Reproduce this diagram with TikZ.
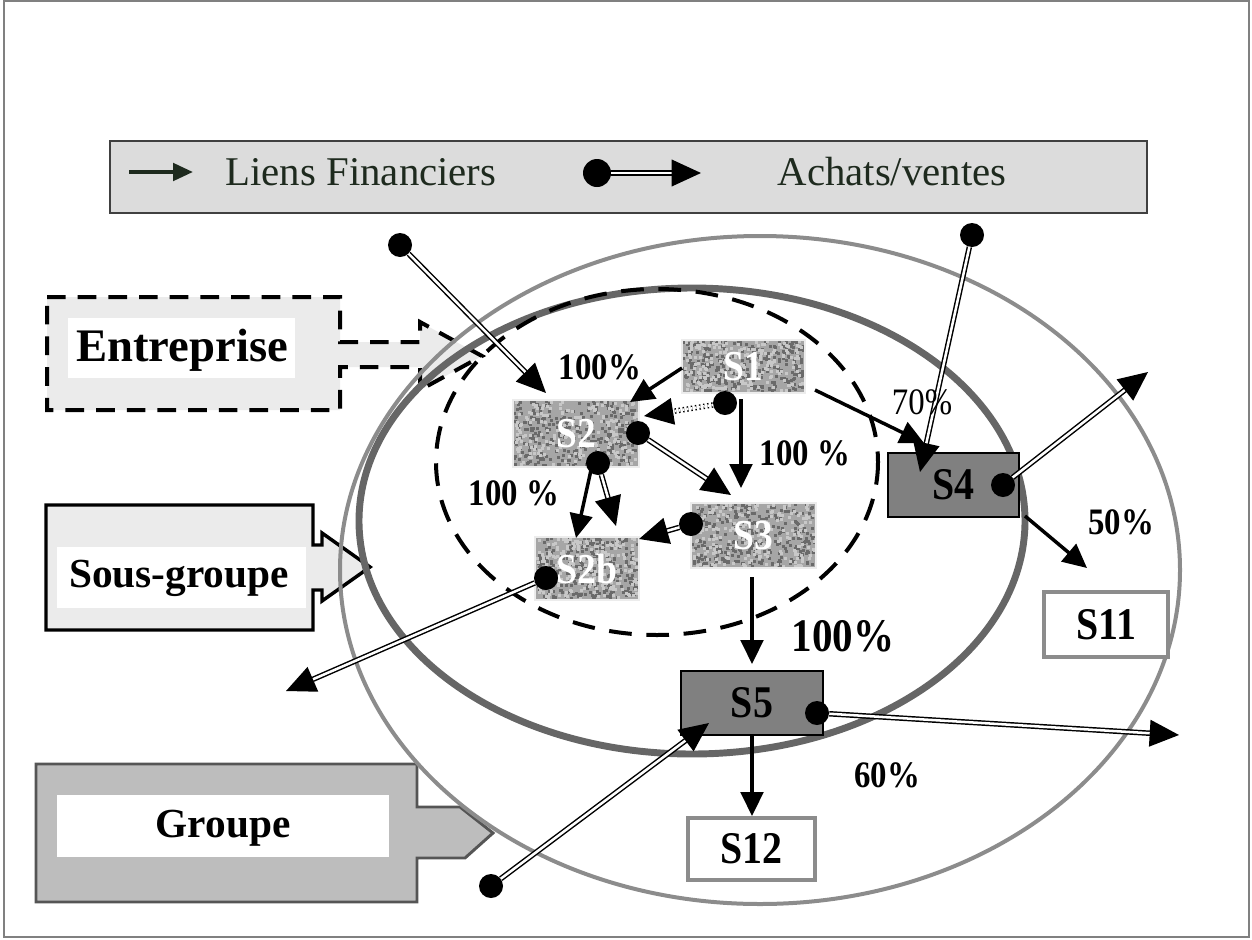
\documentclass[tikz,border=0pt]{standalone}
\usepackage{fontspec}
\setmainfont{Liberation Serif}
\newfontfamily\narrowfont[FakeStretch=0.88]{Liberation Serif}
\usetikzlibrary{arrows.meta}
\definecolor{outerc}{HTML}{8C8C8C}
\definecolor{midc}{HTML}{666666}
\definecolor{legfill}{HTML}{DCDCDC}
\definecolor{legtext}{HTML}{1E2A1E}
\definecolor{noisebase}{HTML}{A6A6A6}
\definecolor{noisedark}{HTML}{6A6A6A}
\definecolor{noiselight}{HTML}{C8C8C8}
\definecolor{darkbox}{HTML}{808080}
\definecolor{calloutlight}{HTML}{EBEBEB}
\definecolor{calloutdark}{HTML}{BDBDBD}
\definecolor{calloutborder}{HTML}{555555}
\newcommand\noisepatch[4]{%
  \fill[noisebase] (#1,#2) rectangle ++(#3,#4);
  \foreach \k in {1,...,300}{%
    \pgfmathsetmacro\nx{#1+rnd*(#3-3)}%
    \pgfmathsetmacro\ny{#2+rnd*(#4-3)}%
    \fill[noisedark] (\nx,\ny) rectangle ++(3,3);
  }%
  \foreach \k in {1,...,220}{%
    \pgfmathsetmacro\nx{#1+rnd*(#3-3)}%
    \pgfmathsetmacro\ny{#2+rnd*(#4-3)}%
    \fill[noiselight] (\nx,\ny) rectangle ++(3,3);
  }%
}
\tikzset{
  noisebox/.style={draw=white!85!gray, line width=1pt,
    text=white, font=\narrowfont\bfseries\fontsize{32}{34}\selectfont, inner sep=0pt},
  darkboxst/.style={draw=black, line width=0.8pt, fill=darkbox,
    font=\narrowfont\bfseries\fontsize{34}{36}\selectfont, inner sep=0pt},
  whitebox/.style={draw=outerc, line width=2.4pt, fill=white,
    font=\narrowfont\bfseries\fontsize{34}{36}\selectfont, inner sep=0pt},
  fin/.style={line width=2.6pt, -{Triangle[length=18pt,width=17pt]}},
  ach/.style={line width=1.1pt, double=white, double distance=1.9pt,
    -{Triangle[length=22pt,width=20pt]}},
  dotnode/.style={circle, fill=black, inner sep=0pt, minimum size=18pt},
  pct/.style={font=\narrowfont\bfseries\fontsize{28}{30}\selectfont, inner sep=0pt},
  calltext/.style={font=\bfseries\fontsize{31}{33}\selectfont, inner sep=0pt},
  legtextst/.style={text=legtext, font=\fontsize{30.6}{33}\selectfont, inner sep=0pt, anchor=base},
}
\begin{document}
\begin{tikzpicture}[x=0.75pt,y=-0.75pt]
\pgfmathsetseed{4242}
\useasboundingbox (0,0) rectangle (1252,939);
% frame
\draw[gray, line width=1.2pt] (4,1) rectangle (1249,937);

% legend
\node[draw=black!75, line width=1.5pt, fill=legfill, minimum width=777.75pt, minimum height=54pt, inner sep=0pt] (legend) at (628.5,177) {};
\coordinate (lfa) at (129,172);
\coordinate (lfb) at (193,172);
\draw[legtext, line width=3pt, -{Triangle[length=15pt,width=13pt]}] (lfa) -- (lfb);
\node[legtextst] (lliens) at (361,185) {Liens Financiers};
\node[circle, fill=black, inner sep=0pt, minimum width=19pt, minimum height=21pt] (ldot) at (597,173) {};
\coordinate (lab) at (701,173);
\draw[ach] (ldot) -- (lab);
\node[legtextst] (lachats) at (892,185) {Achats/ventes};

% callout Entreprise
\path[fill=calloutlight, draw=black, line width=3pt, dash pattern=on 14pt off 9pt]
  (47,297) -- (340,297) -- (340,342) -- (420,342) -- (420,322) -- (482,356) -- (420,390) -- (420,367) -- (340,367) -- (340,410) -- (47,410) -- cycle;
\fill[white] (68,318) rectangle (295,378);
\node[calltext, font=\bfseries\fontsize{35}{37}\selectfont] (entreprise) at (182,350) {Entreprise};

% callout Sous-groupe
\path[fill=calloutlight, draw=black, line width=2.6pt]
  (46,505) -- (313,505) -- (313,545) -- (322,545) -- (322,533) -- (370,567) -- (322,601) -- (322,590) -- (313,590) -- (313,630) -- (46,630) -- cycle;
\fill[white] (57,547) rectangle (306,608);
\node[calltext] (sousgroupe) at (179,578) {Sous-groupe};

% callout Groupe
\path[fill=calloutdark, draw=calloutborder, line width=2.2pt]
  (36,764) -- (417,764) -- (417,807) -- (460,807) -- (493,833) -- (465,858) -- (417,858) -- (417,902) -- (36,902) -- cycle;
\fill[white] (57,795) rectangle (389,857);
\node[calltext] (groupe) at (223,828) {Groupe};

% ellipses
\draw[outerc, line width=3pt] (760,570) ellipse [x radius=420, y radius=334];
\draw[midc, line width=5.2pt] (692,521) ellipse [x radius=333, y radius=233];
\draw[black, line width=3pt, dash pattern=on 17pt off 11pt] (657,462) ellipse [x radius=221, y radius=173];

% textured boxes
\noisepatch{682}{340}{123}{53}
\noisepatch{513}{400}{126}{67}
\noisepatch{535}{537}{104}{63}
\noisepatch{691}{503}{125}{65}
\node[noisebox, minimum width=92.25pt, minimum height=39.75pt] (S1) at (743.5,366.5) {S1};
\node[noisebox, minimum width=94.5pt, minimum height=50.25pt] (S2) at (576,433.5) {S2};
\node[noisebox, minimum width=78pt, minimum height=47.25pt] (S2b) at (587,568.5) {S2b};
\node[noisebox, minimum width=93.75pt, minimum height=48.75pt] (S3) at (753.5,535.5) {S3};
\node[darkboxst, minimum width=98.25pt, minimum height=48pt] (S4) at (953.5,485) {S4};
\node[darkboxst, minimum width=106.5pt, minimum height=48pt] (S5) at (752,703) {S5};
\node[whitebox, minimum width=93pt, minimum height=48.75pt] (S11) at (1106,624.5) {S11};
\node[whitebox, minimum width=95.25pt, minimum height=46.5pt] (S12) at (751.5,849) {S12};

% financial links
\coordinate (f1a) at (682,368);  \coordinate (f1b) at (630,402);
\coordinate (f2a) at (741,399);  \coordinate (f2b) at (741,488);
\coordinate (f3a) at (815,390);  \coordinate (f3b) at (924,443);
\coordinate (f4a) at (591,470);  \coordinate (f4b) at (576,538);
\coordinate (f5a) at (752,577);  \coordinate (f5b) at (752,664);
\coordinate (f6a) at (1025,516); \coordinate (f6b) at (1087,568);
\coordinate (f7a) at (752,735);  \coordinate (f7b) at (752,816);
\draw[fin] (f1a) -- (f1b);
\draw[fin] (f2a) -- (f2b);
\draw[fin] (f3a) -- (f3b);
\draw[fin] (f4a) -- (f4b);
\draw[fin] (f5a) -- (f5b);
\draw[fin] (f6a) -- (f6b);
\draw[fin] (f7a) -- (f7b);

% purchases / sales
\node[dotnode] (da) at (400,245) {};   \coordinate (ta) at (546,393);
\node[dotnode] (db) at (972,235) {};   \coordinate (tb) at (920,472);
\node[dotnode] (dc) at (1003,485) {};  \coordinate (tc) at (1148,372);
\node[dotnode] (dd) at (725,403) {};   \coordinate (td) at (644,416);
\node[dotnode] (de) at (638,433) {};   \coordinate (te) at (731,495);
\node[dotnode] (df) at (598,463) {};   \coordinate (tf) at (616,526);
\node[dotnode] (dg) at (691,524) {};   \coordinate (tg) at (639,539);
\node[dotnode] (dh) at (546,578) {};   \coordinate (th) at (286,691);
\node[dotnode] (di) at (817,713) {};   \coordinate (ti) at (1179,735);
\node[dotnode] (dj) at (491,886) {};   \coordinate (tj) at (709,723);
\draw[ach] (da) -- (ta);
\draw[ach] (db) -- (tb);
\draw[ach] (dc) -- (tc);
\draw[ach, dotted] (dd) -- (td);
\draw[ach] (de) -- (te);
\draw[ach] (df) -- (tf);
\draw[ach] (dg) -- (tg);
\draw[ach] (dh) -- (th);
\draw[ach] (di) -- (ti);
\draw[ach] (dj) -- (tj);

% percentages
\node[pct] (p1) at (600,367) {100\%};
\node[pct] (p2) at (805,453) {100 \%};
\node[pct] (p3) at (514,493) {100 \%};
\node[pct, font=\narrowfont\fontsize{28}{30}\selectfont] (p4) at (922,402) {70\%};
\node[pct] (p5) at (1121,522) {50\%};
\node[pct, font=\narrowfont\bfseries\fontsize{35}{37}\selectfont] (p6) at (843,636) {100\%};
\node[pct] (p7) at (887,775) {60\%};
\end{tikzpicture}
\end{document}
